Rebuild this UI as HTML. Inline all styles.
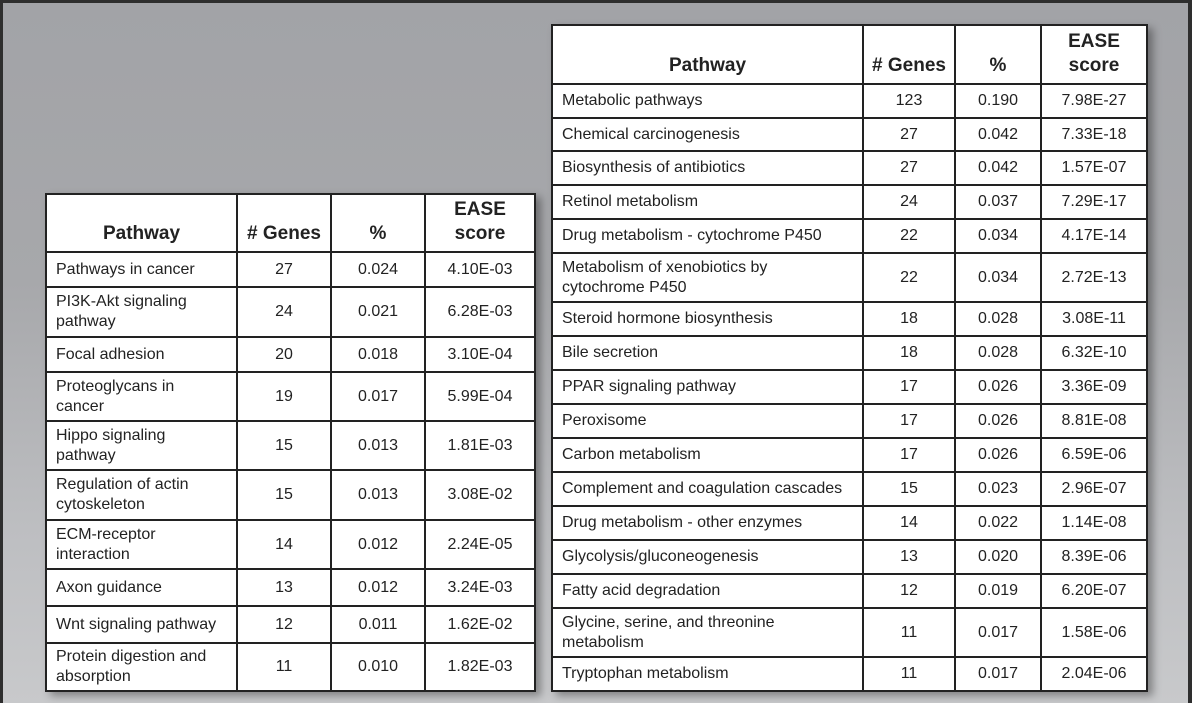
<!DOCTYPE html>
<html><head><style>
html,body{margin:0;padding:0}
body{width:1192px;height:691px;overflow:hidden;position:relative;background:#2e2e2e;font-family:"Liberation Sans",sans-serif}
.bg{position:absolute;left:3px;top:3px;width:1185px;height:700px;background:linear-gradient(180deg,#a2a3a7 0%,#a7a8ab 40%,#bdbec1 75%,#c8c9cb 100%)}
table{position:absolute;border-collapse:collapse;background:#fff;box-shadow:5px 4px 8px rgba(0,0,0,.35);table-layout:fixed}
td,th{border:2px solid #222;padding:0 9px;font-size:16px;color:#222;line-height:20px}
th{font-size:19px;font-weight:bold;text-align:center;vertical-align:bottom;padding:0 3px 5px 3px;line-height:24px;white-space:nowrap}
td{text-align:center}
td:first-child{text-align:left}
</style></head><body>
<div class="bg"></div>
<table style="left:45px;top:193px;width:489px">
<colgroup><col style="width:191px"><col style="width:94px"><col style="width:94px"><col style="width:110px"></colgroup>
<tr style="height:58px"><th>Pathway</th><th># Genes</th><th>%</th><th>EASE<br>score</th></tr>
<tr style="height:35px"><td>Pathways in cancer</td><td>27</td><td>0.024</td><td>4.10E-03</td></tr>
<tr style="height:50px"><td>PI3K-Akt signaling<br>pathway</td><td>24</td><td>0.021</td><td>6.28E-03</td></tr>
<tr style="height:35px"><td>Focal adhesion</td><td>20</td><td>0.018</td><td>3.10E-04</td></tr>
<tr style="height:49px"><td>Proteoglycans in<br>cancer</td><td>19</td><td>0.017</td><td>5.99E-04</td></tr>
<tr style="height:49px"><td>Hippo signaling<br>pathway</td><td>15</td><td>0.013</td><td>1.81E-03</td></tr>
<tr style="height:50px"><td>Regulation of actin<br>cytoskeleton</td><td>15</td><td>0.013</td><td>3.08E-02</td></tr>
<tr style="height:49px"><td>ECM-receptor<br>interaction</td><td>14</td><td>0.012</td><td>2.24E-05</td></tr>
<tr style="height:37px"><td>Axon guidance</td><td>13</td><td>0.012</td><td>3.24E-03</td></tr>
<tr style="height:37px"><td>Wnt signaling pathway</td><td>12</td><td>0.011</td><td>1.62E-02</td></tr>
<tr style="height:48px"><td>Protein digestion and<br>absorption</td><td>11</td><td>0.010</td><td>1.82E-03</td></tr>
</table>
<table style="left:551px;top:24px;width:595px">
<colgroup><col style="width:311px"><col style="width:92px"><col style="width:86px"><col style="width:106px"></colgroup>
<tr style="height:59px"><th>Pathway</th><th># Genes</th><th>%</th><th>EASE<br>score</th></tr>
<tr style="height:34px"><td>Metabolic pathways</td><td>123</td><td>0.190</td><td>7.98E-27</td></tr>
<tr style="height:33px"><td>Chemical carcinogenesis</td><td>27</td><td>0.042</td><td>7.33E-18</td></tr>
<tr style="height:34px"><td>Biosynthesis of antibiotics</td><td>27</td><td>0.042</td><td>1.57E-07</td></tr>
<tr style="height:34px"><td>Retinol metabolism</td><td>24</td><td>0.037</td><td>7.29E-17</td></tr>
<tr style="height:34px"><td>Drug metabolism - cytochrome P450</td><td>22</td><td>0.034</td><td>4.17E-14</td></tr>
<tr style="height:49px"><td>Metabolism of xenobiotics by<br>cytochrome P450</td><td>22</td><td>0.034</td><td>2.72E-13</td></tr>
<tr style="height:34px"><td>Steroid hormone biosynthesis</td><td>18</td><td>0.028</td><td>3.08E-11</td></tr>
<tr style="height:34px"><td>Bile secretion</td><td>18</td><td>0.028</td><td>6.32E-10</td></tr>
<tr style="height:34px"><td>PPAR signaling pathway</td><td>17</td><td>0.026</td><td>3.36E-09</td></tr>
<tr style="height:34px"><td>Peroxisome</td><td>17</td><td>0.026</td><td>8.81E-08</td></tr>
<tr style="height:34px"><td>Carbon metabolism</td><td>17</td><td>0.026</td><td>6.59E-06</td></tr>
<tr style="height:34px"><td>Complement and coagulation cascades</td><td>15</td><td>0.023</td><td>2.96E-07</td></tr>
<tr style="height:34px"><td>Drug metabolism - other enzymes</td><td>14</td><td>0.022</td><td>1.14E-08</td></tr>
<tr style="height:34px"><td>Glycolysis/gluconeogenesis</td><td>13</td><td>0.020</td><td>8.39E-06</td></tr>
<tr style="height:34px"><td>Fatty acid degradation</td><td>12</td><td>0.019</td><td>6.20E-07</td></tr>
<tr style="height:49px"><td>Glycine, serine, and threonine<br>metabolism</td><td>11</td><td>0.017</td><td>1.58E-06</td></tr>
<tr style="height:34px"><td>Tryptophan metabolism</td><td>11</td><td>0.017</td><td>2.04E-06</td></tr>
</table>
</body></html>
